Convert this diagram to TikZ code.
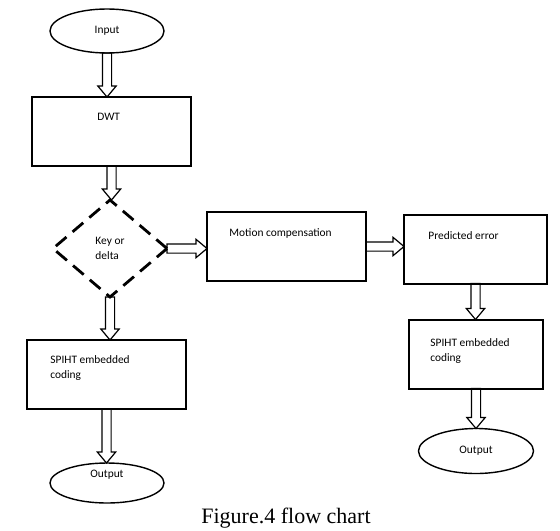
\documentclass[tikz,border=0pt]{standalone}
\usepackage{fontspec}
\setmainfont{Liberation Serif}
\newfontfamily\boxfont{Carlito}
\usetikzlibrary{shapes.geometric, positioning, calc}

\begin{document}
\begin{tikzpicture}[
  font=\boxfont\fontsize{5.7}{7.5}\selectfont,
  % Flow chart node styles
  terminal/.style={
    ellipse, draw=black, line width=0.7pt,
    minimum width=57pt, minimum height=22pt, inner sep=0pt, outer sep=0pt
  },
  process/.style={
    rectangle, draw=black, line width=1pt,
    minimum height=34.5pt, inner sep=0pt, outer sep=0pt
  },
  decision/.style={
    diamond, draw=black, line width=1.4pt, dash pattern=on 7pt off 4pt,
    minimum width=57pt, minimum height=48.5pt, inner sep=0pt, outer sep=0pt,
    align=left
  },
  boxtext/.style={inner sep=0pt, align=left},
  hollow/.style={line width=0.6pt, line join=miter, to path={
    let \p1=($(\tikztotarget)!5.5pt!(\tikztostart)$) in
    ($(\tikztostart)!2.3pt!90:(\tikztotarget)$) --
    ($(\p1)!2.3pt!-90:(\tikztostart)$) --
    ($(\p1)!4.6pt!-90:(\tikztostart)$) --
    (\tikztotarget) --
    ($(\p1)!4.6pt!90:(\tikztostart)$) --
    ($(\p1)!2.3pt!90:(\tikztostart)$) --
    ($(\tikztostart)!2.3pt!-90:(\tikztotarget)$) -- cycle
  }}
]
\useasboundingbox (0,0) rectangle (280pt,-265pt);

% Main column
\node[terminal] (input) at (53.5pt,-15.5pt) {Input};
\node[process, minimum width=79.5pt, below=22pt of input, xshift=2.25pt] (dwt) {};
\node[decision, below=17pt of dwt, xshift=-0.75pt] (key) {Key or\\delta};
\node[process, minimum width=79.5pt, below=21.5pt of key, xshift=-1.75pt] (spiht) {};
\node[terminal, minimum height=20pt, text height=4pt, text depth=9.4pt,
  below=27pt of spiht, xshift=0.25pt] (output) {Output};

% Right branch
\node[process, minimum width=79.5pt, right=20pt of key, yshift=1pt] (motion) {};
\node[process, minimum width=71.5pt, right=19pt of motion, yshift=-1.25pt] (error) {};
\node[process, minimum width=67pt, below=18pt of error, xshift=0.25pt] (spihtb) {};
\node[terminal, minimum width=57.5pt, minimum height=22.5pt, below=20pt of spihtb] (outputb) {Output};

% Box texts
\node[boxtext, below right=7.7pt and 32.5pt of dwt.north west] (dwt-txt) {DWT};
\node[boxtext, below right=8pt and 11pt of motion.north west] (motion-txt) {Motion compensation};
\node[boxtext, below right=8.5pt and 12pt of error.north west] (error-txt) {Predicted error};
\node[boxtext, below right=7.5pt and 11.5pt of spiht.north west] (spiht-txt) {SPIHT embedded\\coding};
\node[boxtext, below right=9.5pt and 10.5pt of spihtb.north west] (spihtb-txt) {SPIHT embedded\\coding};

% Flow arrows
\draw[hollow] (input.south) to (input.south |- dwt.north);
\draw[hollow] (dwt.south) to (dwt.south |- key.north);
\draw[hollow] (key.south) to (key.south |- spiht.north);
\draw[hollow] (spiht.south) to (spiht.south |- output.north);
\draw[hollow] (key.east) to (key.east -| motion.west);
\draw[hollow] (motion.east) to (motion.east -| error.west);
\draw[hollow] (error.south) to (error.south |- spihtb.north);
\draw[hollow] (spihtb.south) to (spihtb.south |- outputb.north);

% Caption
\node[font=\rmfamily\fontsize{11}{13}\selectfont] (caption) at (143pt,-259pt) {Figure.4 flow chart};

\end{tikzpicture}
\end{document}
